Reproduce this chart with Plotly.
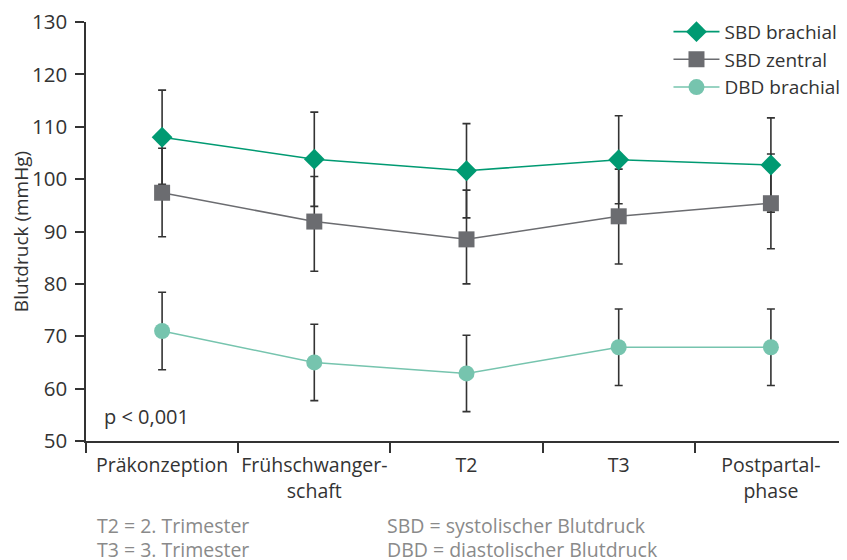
import plotly.graph_objects as go

categories = ["Präkonzeption", "Frühschwanger-<br>schaft", "T2", "T3", "Postpartal-<br>phase"]
y_ticks = [50, 60, 70, 80, 90, 100, 110, 120, 130]

sbd_brachial = [108.0, 103.8, 101.6, 103.7, 102.7]
sbd_brachial_err = [9.0, 9.0, 9.0, 8.4, 9.0]

sbd_zentral = [97.4, 91.9, 88.5, 92.9, 95.4]
sbd_zentral_err_plus = [8.5, 8.6, 9.4, 9.0, 9.4]
sbd_zentral_err_minus = [8.4, 9.5, 8.5, 9.1, 8.7]

dbd_brachial = [71.0, 65.0, 62.9, 67.9, 67.9]
dbd_brachial_err = [7.4, 7.3, 7.3, 7.3, 7.3]

GREEN = "#009a72"
GRAY = "#6b6c70"
TEAL = "#76c4ae"
DARK = "#333333"
FONT = "Open Sans"

fig = go.Figure()

# error bars first (behind all markers)
err_style = dict(color=DARK, thickness=1.6, width=4)
fig.add_trace(go.Scatter(x=categories, y=sbd_brachial, mode="markers",
                         marker=dict(size=1, color="rgba(0,0,0,0)"),
                         error_y=dict(type="data", array=sbd_brachial_err, **err_style),
                         showlegend=False, hoverinfo="skip"))
fig.add_trace(go.Scatter(x=categories, y=sbd_zentral, mode="markers",
                         marker=dict(size=1, color="rgba(0,0,0,0)"),
                         error_y=dict(type="data", array=sbd_zentral_err_plus,
                                      arrayminus=sbd_zentral_err_minus, symmetric=False, **err_style),
                         showlegend=False, hoverinfo="skip"))
fig.add_trace(go.Scatter(x=categories, y=dbd_brachial, mode="markers",
                         marker=dict(size=1, color="rgba(0,0,0,0)"),
                         error_y=dict(type="data", array=dbd_brachial_err, **err_style),
                         showlegend=False, hoverinfo="skip"))

fig.add_trace(go.Scatter(x=categories, y=sbd_zentral, mode="lines+markers", name="SBD zentral",
                         line=dict(color=GRAY, width=1.5),
                         marker=dict(symbol="square", size=16, color=GRAY),
                         legendrank=2))
fig.add_trace(go.Scatter(x=categories, y=sbd_brachial, mode="lines+markers", name="SBD brachial",
                         line=dict(color=GREEN, width=1.6),
                         marker=dict(symbol="diamond", size=16, color=GREEN),
                         legendrank=1))
fig.add_trace(go.Scatter(x=categories, y=dbd_brachial, mode="lines+markers", name="DBD brachial",
                         line=dict(color=TEAL, width=1.5),
                         marker=dict(symbol="circle", size=16, color=TEAL),
                         legendrank=3))

fig.update_layout(
    width=839, height=552,
    margin=dict(l=78, r=0, t=14, b=119, autoexpand=False),
    paper_bgcolor="white", plot_bgcolor="white",
    font=dict(family=FONT, size=19.5, color=DARK),
    showlegend=True,
    legend=dict(x=0.998, xanchor="right", y=1.022, yanchor="top",
                font=dict(size=19, color=DARK), bgcolor="rgba(0,0,0,0)",
                itemwidth=46, tracegroupgap=0),
    xaxis=dict(type="category", range=[-0.5, 4.5], showline=True, linecolor=DARK, linewidth=1.5,
               ticks="outside", tickson="boundaries", ticklen=10, tickwidth=1.5, tickcolor=DARK,
               showgrid=False, zeroline=False, automargin=False, tickangle=0,
               ticklabelstandoff=6, ticklabeloverflow="allow",
               tickfont=dict(size=19.5, color=DARK)),
    yaxis=dict(range=[50, 130], tickmode="array", tickvals=y_ticks,
               showline=True, linecolor=DARK, linewidth=1.5,
               ticks="outside", ticklen=9, tickwidth=1.5, tickcolor=DARK,
               showgrid=False, zeroline=False, automargin=False,
               ticklabelstandoff=4, ticklabeloverflow="allow",
               tickfont=dict(size=20.5, color=DARK),
               title=dict(text="Blutdruck (mmHg)", font=dict(size=19, color=DARK), standoff=12)),
)

fig.add_annotation(text="p < 0,001", xref="paper", yref="paper", x=0.0215, y=0.022,
                   xanchor="left", yanchor="bottom", showarrow=False,
                   font=dict(size=20, color=DARK))

notes = [("T2 = 2. Trimester", 95, 526), ("T3 = 3. Trimester", 95, 550),
         ("SBD = systolischer Blutdruck", 385, 526), ("DBD = diastolischer Blutdruck", 385, 550)]
for txt, px, py in notes:
    fig.add_annotation(text=txt, xref="paper", yref="paper",
                       x=(px - 86) / 761, y=(441 - py) / 420,
                       xanchor="left", yanchor="middle", showarrow=False,
                       font=dict(size=19.5, color="#8a8a8a"))

fig.write_html("out.html")
